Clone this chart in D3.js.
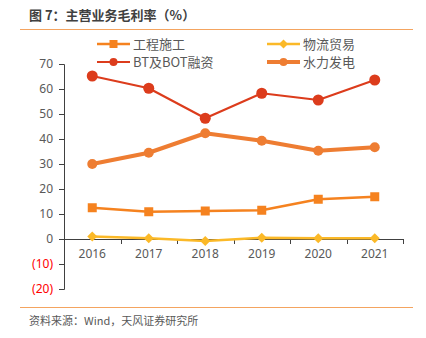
<!DOCTYPE html>
<html><head><meta charset="utf-8">
<script src="https://cdn.jsdelivr.net/npm/d3@7"></script>
<style>body{margin:0;background:#fff;}svg{display:block;font-family:"Noto Sans CJK SC","Noto Sans",sans-serif;}</style>
</head><body>
<svg id="c" width="426" height="338"></svg>
<script>
const years = ["2016","2017","2018","2019","2020","2021"];
const engineering = [12.5, 10.9, 11.2, 11.5, 15.9, 16.9];
const logistics = [1.0, 0.3, -0.8, 0.5, 0.3, 0.3];
const btBot = [65.2, 60.3, 48.3, 58.3, 55.6, 63.6];
const hydro = [30.0, 34.5, 42.3, 39.3, 35.3, 36.7];
const yTicks = [70, 60, 50, 40, 30, 20, 10, 0, -10, -20];
const seriesNames = ["工程施工", "物流贸易", "BT及BOT融资", "水力发电"];

const svg = d3.select("#c");
const x = d3.scaleBand().domain(years).range([64, 403]);
const y = d3.scaleLinear().domain([-20, 70]).range([289, 64]);

// title
svg.append("text").attr("x", 29).attr("y", 20).attr("font-size", 13).attr("font-weight", "bold")
  .attr("fill", "#404040").text("图 7：主营业务毛利率（%）");
svg.append("line").attr("x1", 20).attr("x2", 413).attr("y1", 29.5).attr("y2", 29.5).attr("stroke", "#F4A460").attr("stroke-width", 1);
svg.append("line").attr("x1", 20).attr("x2", 413).attr("y1", 307.5).attr("y2", 307.5).attr("stroke", "#F4A460").attr("stroke-width", 1);
svg.append("text").attr("x", 29).attr("y", 325).attr("font-size", 11).attr("fill", "#595959").text("资料来源：Wind，天风证券研究所");

// y axis
const ya = svg.append("g").attr("transform", "translate(64,0)")
  .call(d3.axisLeft(y).tickValues(yTicks).tickSize(5).tickPadding(6)
    .tickFormat(d => d < 0 ? "(" + (-d) + ")" : d));
ya.select(".domain").attr("stroke", "#404040");
ya.selectAll(".tick line").attr("stroke", "#404040");
ya.selectAll(".tick text").attr("font-size", 12).attr("font-family", "'Noto Sans','DejaVu Sans',sans-serif")
  .attr("fill", d => d < 0 ? "#FF0000" : "#595959");

// x axis at zero
const xa = svg.append("g").attr("transform", "translate(0," + y(0) + ")")
  .call(d3.axisBottom(x).tickSize(0).tickPadding(10));
xa.select(".domain").attr("stroke", "#404040");
xa.selectAll(".tick text").attr("font-size", 12).attr("font-family", "'Noto Sans','DejaVu Sans',sans-serif").attr("fill", "#595959");
// boundary ticks
const bounds = years.map(d => x(d) + x.bandwidth()).slice(0);
svg.append("g").selectAll("line").data(bounds).join("line")
  .attr("x1", d => Math.round(d) + 0.5).attr("x2", d => Math.round(d) + 0.5)
  .attr("y1", y(0)).attr("y2", y(0) + 5).attr("stroke", "#404040");

const cx = d => x(d) + x.bandwidth() / 2;
const line = d3.line().x(d => cx(d.year)).y(d => y(d.v));

const series = [
  {name: seriesNames[0], data: engineering, color: "#F5821F", width: 2.5, marker: "square", size: 9},
  {name: seriesNames[1], data: logistics, color: "#FBB928", width: 2.5, marker: "diamond", size: 9},
  {name: seriesNames[2], data: btBot, color: "#DC3C1C", width: 2.2, marker: "circle", size: 5.5},
  {name: seriesNames[3], data: hydro, color: "#EE7D32", width: 4, marker: "circle", size: 5}
];

function drawMarker(g, s, px, py) {
  if (s.marker === "square") {
    g.append("rect").attr("x", px - s.size / 2).attr("y", py - s.size / 2).attr("width", s.size).attr("height", s.size).attr("fill", s.color);
  } else if (s.marker === "diamond") {
    const r = s.size / 2 + 0.5;
    g.append("path").attr("d", `M${px},${py - r}L${px + r},${py}L${px},${py + r}L${px - r},${py}Z`).attr("fill", s.color);
  } else {
    g.append("circle").attr("cx", px).attr("cy", py).attr("r", s.size).attr("fill", s.color);
  }
}

// draw order: hydro, engineering, logistics, BT on top
[series[3], series[0], series[1], series[2]].forEach(s => {
  const pts = years.map((yr, i) => ({year: yr, v: s.data[i]}));
  const g = svg.append("g");
  g.append("path").datum(pts).attr("d", line).attr("fill", "none").attr("stroke", s.color).attr("stroke-width", s.width).attr("stroke-linejoin", "round");
  pts.forEach(p => drawMarker(g, s, cx(p.year), y(p.v)));
});

// legend
const legPos = [[97, 44], [267, 44], [97, 62], [267, 62]];
series.forEach((s, i) => {
  const [lx, ly] = legPos[i];
  const g = svg.append("g");
  g.append("line").attr("x1", lx).attr("x2", lx + 33).attr("y1", ly).attr("y2", ly).attr("stroke", s.color).attr("stroke-width", s.width);
  const ms = Object.assign({}, s, {size: s.marker === "circle" ? 4 : 8});
  drawMarker(g, ms, lx + 16.5, ly);
  g.append("text").attr("x", lx + 36).attr("y", ly + 4.5).attr("font-size", 13).attr("fill", "#595959").text(s.name);
});
</script>
</body></html>
